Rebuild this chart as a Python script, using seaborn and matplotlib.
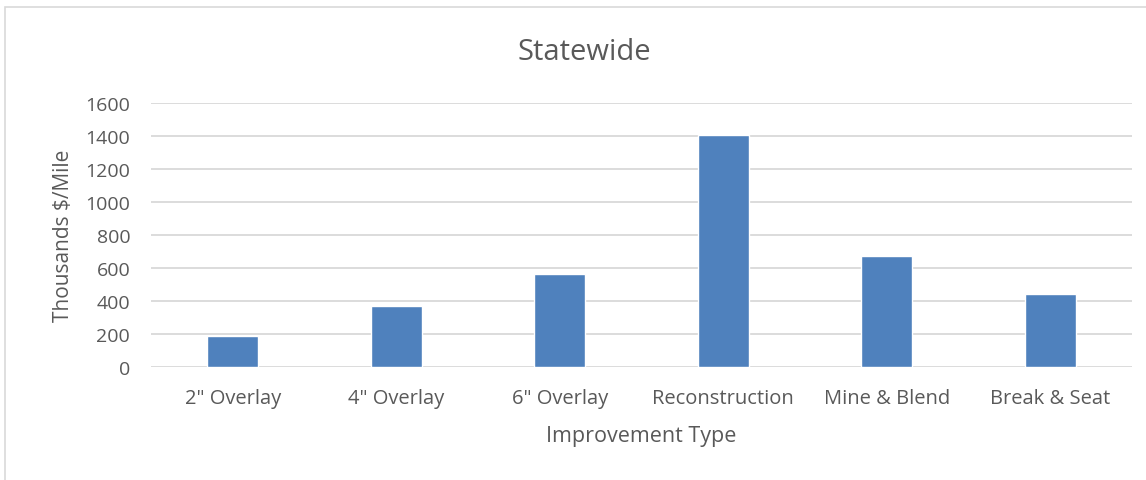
import matplotlib
matplotlib.use('Agg')
import pandas as pd
import matplotlib.pyplot as plt
import seaborn as sns
from matplotlib.patches import Rectangle

# Chart values
improvement_types = ['2" Overlay', '4" Overlay', '6" Overlay', 'Reconstruction',
                     'Mine & Blend', 'Break & Seat']
cost_per_mile = [188, 370, 566, 1405, 674, 443]
y_ticks = [0, 200, 400, 600, 800, 1000, 1200, 1400, 1600]

df = pd.DataFrame({'Improvement Type': improvement_types, 'Cost': cost_per_mile})

sns.set_style('white')
plt.rcParams['font.family'] = ['Open Sans', 'DejaVu Sans']

text_grey = '#595959'
fig = plt.figure(figsize=(11.46, 4.81), dpi=100)
ax = fig.add_axes([0.1318, 0.2349, 0.8560, 0.5489])

sns.barplot(x='Improvement Type', y='Cost', data=df, color='#4F81BD',
            width=0.31, saturation=1, ax=ax, zorder=3)

ax.set_ylim(0, 1600)
ax.set_yticks(y_ticks)
ax.set_xlim(-0.5, len(improvement_types) - 0.5)
ax.yaxis.grid(True, color='#D9D9D9', linewidth=1.3, zorder=0)
ax.set_axisbelow(True)
for s in ax.spines.values():
    s.set_visible(False)
ax.tick_params(axis='both', length=0, colors=text_grey)
ax.tick_params(axis='x', pad=15, labelsize=14.5)
ax.tick_params(axis='y', pad=15, labelsize=14)

ax.set_xlabel('Improvement Type', color=text_grey, fontsize=15.5, labelpad=12)
ax.set_ylabel('Thousands $/Mile', color=text_grey, fontsize=15, labelpad=8)
fig.text(0.51, 1 - 52 / 481, 'Statewide', ha='center', va='center',
         color=text_grey, fontsize=21)

# chart area border
fig.patches.append(Rectangle((5 / 1146, -0.1), 1.2, 1.1 - 8 / 481,
                             transform=fig.transFigure, fill=False,
                             edgecolor='#D9D9D9', linewidth=1.2))

fig.savefig('out.png', dpi=100)
